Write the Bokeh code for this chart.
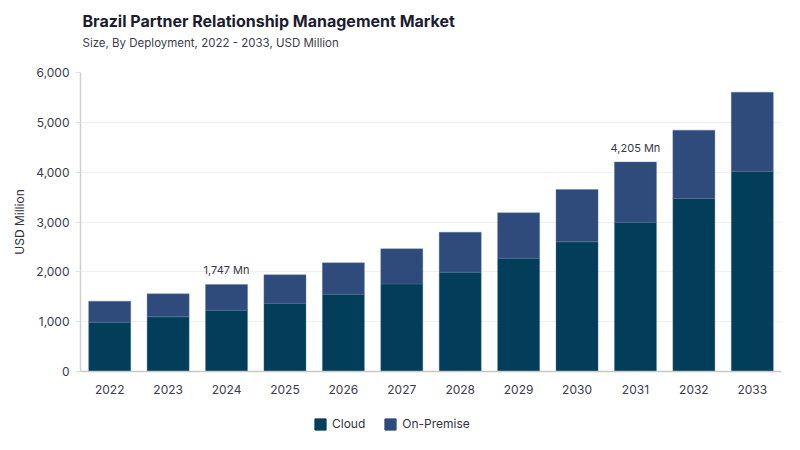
from bokeh.plotting import figure
from bokeh.layouts import column
from bokeh.models import (ColumnDataSource, Range1d, Label, NumeralTickFormatter, Legend, LegendItem,
                          FixedTicker, FactorRange)
from bokeh.embed import file_html
from bokeh.resources import INLINE
from bokeh.core.properties import value

years = ["2022", "2023", "2024", "2025", "2026", "2027", "2028", "2029", "2030", "2031", "2032", "2033"]
cloud = [990, 1097, 1230, 1371, 1552, 1757, 1993, 2274, 2602, 2997, 3472, 4020]
on_premise = [421, 462, 517, 569, 629, 705, 803, 910, 1050, 1208, 1371, 1585]
series = ["Cloud", "On-Premise"]
colors = ["#023e5a", "#2f4b7c"]

label_years = ["2024", "2031"]
label_values = [1747, 4205]
label_texts = ["1,747 Mn", "4,205 Mn"]

title_text = "Brazil Partner Relationship Management Market"
subtitle_text = "Size, By Deployment, 2022 - 2033, USD Million"

FONT = "Inter"
W = 792
LEFT = 80
RIGHT = 11

src = ColumnDataSource(dict(year=years, Cloud=cloud, **{"On-Premise": on_premise}))

# ---- header strip with title and subtitle
t = figure(width=W, height=62, x_range=Range1d(0, W - LEFT - RIGHT), y_range=Range1d(0, 62),
           output_backend="svg", toolbar_location=None, title=None,
           x_axis_type=None, y_axis_type=None,
           min_border_left=LEFT, min_border_right=RIGHT, min_border_top=0, min_border_bottom=0)
t.outline_line_color = None
t.xgrid.visible = False
t.ygrid.visible = False
t.add_layout(Label(x=2, y=42, text=title_text, text_baseline="middle", text_align="left",
                   text_font=FONT, text_font_size="16px", text_font_style="bold",
                   text_color="#1c1c30"))
t.add_layout(Label(x=2, y=20, text=subtitle_text, text_baseline="middle", text_align="left",
                   text_font=FONT, text_font_size="11.5px", text_font_style="normal",
                   text_color="#3c3c4c"))

# ---- main chart
p = figure(x_range=years, y_range=Range1d(0, 6000), width=W, height=343,
           output_backend="svg", toolbar_location=None, title=None,
           min_border_left=LEFT, min_border_right=RIGHT, min_border_bottom=34, min_border_top=10)

rs = p.vbar_stack(series, x="year", width=0.72, color=colors, source=src,
                  line_color="#5b7894", line_width=0.6, line_alpha=0.6)

lsrc = ColumnDataSource(dict(x=label_years, y=label_values, t=label_texts))
p.text(x="x", y="y", text="t", source=lsrc, text_align="center", text_baseline="bottom",
       y_offset=-7, text_font=value(FONT), text_font_size="11px", text_color="#3a3a4a",
       text_font_style="normal")

p.yaxis.ticker = FixedTicker(ticks=[0, 1000, 2000, 3000, 4000, 5000, 6000])
p.yaxis.formatter = NumeralTickFormatter(format="0,0")
p.yaxis.axis_label = "USD Million"
p.yaxis.axis_label_text_font = FONT
p.yaxis.axis_label_text_font_size = "12px"
p.yaxis.axis_label_text_font_style = "normal"
p.yaxis.axis_label_text_color = "#333344"
p.yaxis.axis_label_standoff = 6
p.yaxis.major_tick_out = 5
p.yaxis.major_tick_in = 0
p.yaxis.minor_tick_out = 0
p.yaxis.minor_tick_in = 0
p.yaxis.major_tick_line_color = "#e0e0e0"
p.yaxis.axis_line_color = "#d0d0d0"
p.yaxis.axis_line_width = 1.5
p.yaxis.major_label_standoff = 6

p.xaxis.major_tick_line_color = None
p.xaxis.minor_tick_line_color = None
p.xaxis.axis_line_color = "#c8c8c8"
p.xaxis.axis_line_width = 1.5
p.xaxis.major_label_standoff = 7

for ax in (p.xaxis, p.yaxis):
    ax.major_label_text_font = FONT
    ax.major_label_text_font_size = "12px"
    ax.major_label_text_color = "#3a3a4a"

p.xgrid.grid_line_color = None
p.ygrid.grid_line_color = "#f0f0f0"
p.ygrid.grid_line_width = 1
p.outline_line_color = None
p.x_range.range_padding = 0.0

# ---- legend strip below the chart: its x range holds only the series names,
# so the year bars map nowhere and only the legend swatches show
q = figure(width=W, height=40, x_range=FactorRange(factors=series), y_range=Range1d(-2, -1),
           output_backend="svg", toolbar_location=None, title=None,
           x_axis_type=None, y_axis_type=None,
           min_border_left=LEFT, min_border_right=RIGHT, min_border_top=0, min_border_bottom=0)
q.outline_line_color = None
q.xgrid.visible = False
q.ygrid.visible = False
qrs = q.vbar_stack(series, x="year", width=0.72, color=colors, source=src)
legend = Legend(items=[LegendItem(label=s, renderers=[r]) for s, r in zip(series, qrs)],
                orientation="horizontal", location=(233, 14),
                label_text_font=FONT, label_text_font_size="12px", label_text_color="#333344",
                glyph_width=14, glyph_height=14, spacing=18, padding=4, margin=0,
                border_line_color=None, background_fill_alpha=0, label_standoff=5)
q.add_layout(legend)

layout = column(t, p, q, spacing=0)
open("out.html", "w").write(file_html(layout, INLINE))
